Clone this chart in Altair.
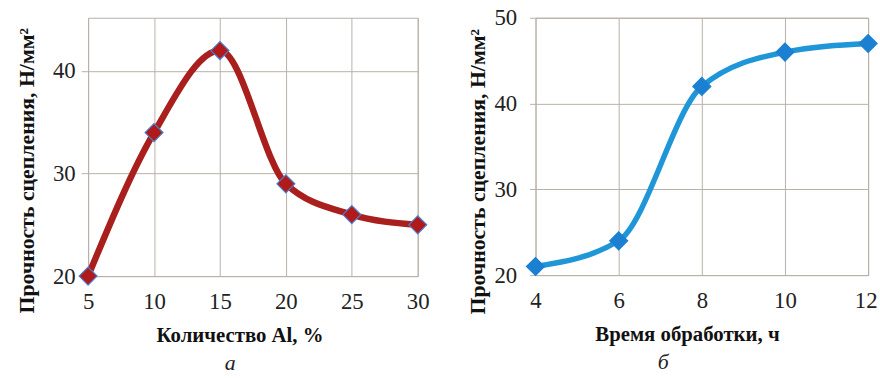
import altair as alt
import pandas as pd

# Panel a
al_pct = [5, 10, 15, 20, 25, 30]
strength_a = [20, 34, 42, 29, 26, 25]
# Panel b
hours = [4, 6, 8, 10, 12]
strength_b = [21, 24, 42, 46, 47]

y_title = "Прочность сцепления, Н/мм²"
xa_title = "Количество Al, %"
xb_title = "Время обработки, ч"
cap_a = "а"
cap_b = "б"

df_a = pd.DataFrame({"x": al_pct, "y": strength_a})
df_b = pd.DataFrame({"x": hours, "y": strength_b})

FONT = "Liberation Serif"
GRID = "#b8b0aa"


def panel(df, xdom, xticks, ydom, yticks, xtitle, cap, w, h, line_col, line_w, fill_col, stroke_col,
          ylab_pad, ytick, title_x, title_y_x, title_y_y, last_label=None, cap_dx=0):
    xaxis_kwargs = dict(
        values=xticks, title=xtitle, grid=True, gridColor=GRID, domain=False, ticks=False,
        labelFont=FONT, labelFontSize=23, labelColor="#222", labelPadding=15,
        titleFont=FONT, titleFontSize=21, titleFontWeight="bold", titleColor="#111",
        titleX=title_x, titleY=49, titleBaseline="top", labelFlush=False,
    )
    if last_label is not None:
        xaxis_kwargs["labelAlign"] = {"condition": {"test": f"datum.value == {last_label}", "value": "right"}, "value": "center"}
        xaxis_kwargs["labelOffset"] = {"condition": {"test": f"datum.value == {last_label}", "value": 9}, "value": 0}
    x = alt.X("x:Q", scale=alt.Scale(domain=xdom, nice=False, zero=False), axis=alt.Axis(**xaxis_kwargs))
    y = alt.Y("y:Q", scale=alt.Scale(domain=ydom, nice=False, zero=False),
              axis=alt.Axis(values=yticks, title=y_title, grid=True, gridColor=GRID, domain=False,
                            ticks=True, tickSize=ytick, tickColor=GRID,
                            labelFont=FONT, labelFontSize=23, labelColor="#222", labelPadding=ylab_pad,
                            titleFont=FONT, titleFontSize=22, titleFontWeight="bold", titleColor="#111",
                            titleX=title_y_x, titleY=title_y_y, titleAngle=-90, titleBaseline="middle"))
    line = alt.Chart(df).mark_line(interpolate="monotone", color=line_col, strokeWidth=line_w).encode(x=x, y=y)
    pts = alt.Chart(df).mark_point(shape="diamond", filled=True, size=330, fill=fill_col,
                                   stroke=stroke_col, strokeWidth=1.2, opacity=1).encode(x=x, y=y)
    return (line + pts).properties(
        width=w, height=h,
        title=alt.TitleParams(cap, orient="bottom", font=FONT, fontSize=22, fontStyle="italic",
                              fontWeight="normal", color="#222", dx=cap_dx, offset=8),
    )


left = panel(df_a, [5, 30], al_pct, [20, 45.2], [20, 30, 40], xa_title, cap_a, 333, 261,
             "#a81f1d", 6.5, "#b01a1a", "#4a7fd0", 6, 7, 153, -62, 154, cap_dx=-23)
right = panel(df_b, [4, 12], hours, [20, 50], [20, 30, 40, 50], xb_title, cap_b, 336, 260,
              "#1e96d8", 5.5, "#1c80d2", "#1c80d2", 13, 6, 153, -59, 155, last_label=12, cap_dx=-39)

chart = alt.hconcat(left, right, spacing=34).configure_view(stroke=GRID, strokeWidth=1).properties(
    background="white", padding={"left": 15, "top": 4, "right": 0, "bottom": 0}
)

chart.save("out.html", embed_options={"renderer": "svg", "actions": False})
